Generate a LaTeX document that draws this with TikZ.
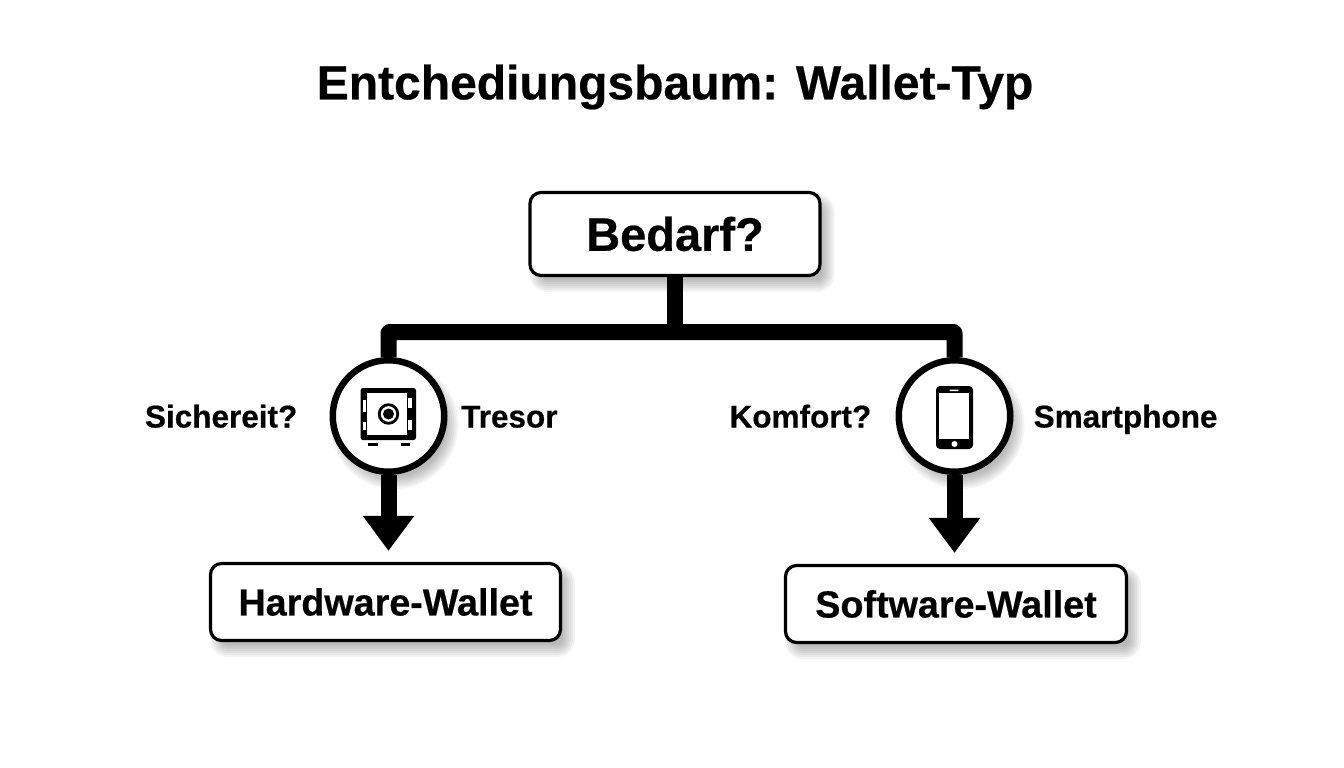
\documentclass[tikz,border=0pt]{standalone}
\usepackage{fontspec}
\setmainfont{Liberation Sans}[BoldFeatures={FakeBold=0.5}]
\usetikzlibrary{positioning,calc,arrows.meta,backgrounds}
\tikzset{
  box/.style={draw=black,fill=white,line width=3.2pt,rounded corners=11pt,
    font=\bfseries\fontsize{37.7}{44}\selectfont},
  round/.style={circle,draw=black,fill=white,line width=6.5pt,minimum size=111.5pt,inner sep=0pt},
  tag/.style={inner sep=0pt,text height=23pt,text depth=0pt,font=\bfseries\fontsize{31.5}{36}\selectfont},
  link/.style={draw=black,line width=16pt,line join=round},
  down/.style={link,shorten >=11pt,-{Triangle[width=49pt,length=35pt]}},
  haze/.style={fill=black,opacity=.045}
}
\newcommand{\boxhaze}[1]{
  \foreach \w in {-6,-4,...,6}
    \fill[haze,rounded corners={12pt+\w*1pt}]
      ($(#1.north west)+(7-\w,9-\w)$) rectangle ($(#1.south east)+(7+\w,9+\w)$);
}
\newcommand{\roundhaze}[1]{
  \foreach \w in {-6,-4,...,6}
    \fill[haze] ($(#1.center)+(6,9)$) circle ({58+\w});
}
\begin{document}
\begin{tikzpicture}[x=1pt,y=-1pt]
  \useasboundingbox (0,0) rectangle (1344,768);

  \node (title) [inner sep=0pt,font=\bfseries\fontsize{48}{58}\selectfont] at (675,87) {Entchediungsbaum: Wallet-Typ};
  \node (need) [box,minimum width=290pt,minimum height=83pt,font=\bfseries\fontsize{47}{54}\selectfont] at (675,234) {Bedarf?};
  \node (safe) [round] at (388.5,416) {};
  \node (phone) [round] at (954.5,416) {};
  \node (hw) [box,minimum width=350pt,minimum height=77pt] at (385.5,602) {Hardware-Wallet};
  \node (sw) [box,minimum width=341pt,minimum height=77pt] at (956,604) {Software-Wallet};

  \node (sec) [tag,left = 32pt of safe] {Sichereit?};
  \node (tre) [tag,right = 13.5pt of safe] {Tresor};
  \node (kom) [tag,left = 24pt of phone] {Komfort?};
  \node (sma) [tag,right = 20pt of phone] {Smartphone};

  \begin{pgfonlayer}{background}
    \boxhaze{need}
    \boxhaze{hw}
    \boxhaze{sw}
    \roundhaze{safe}
    \roundhaze{phone}
  \end{pgfonlayer}

  \coordinate (fork) at (675,332);
  \path[link] (need.south) -- (fork);
  \path[link,rounded corners=1pt] (safe.north) |- (fork) -| (phone.north);
  \path[down] (safe.south) -- (safe.south |- hw.north);
  \path[down] (phone.south) -- (phone.south |- sw.north);

  % safe icon
  \begin{scope}[shift={(safe.center)}]
    \fill[black,rounded corners=2.5pt] (-28,-28) rectangle (27.5,24);
    \fill[white] (-21.5,-23) rectangle (18.5,19);
    \fill[white] (-25.8,-16) rectangle (-22.8,-4.3);
    \fill[white] (-25.8,5.7) rectangle (-22.8,14);
    \fill[white] (19.8,-18) rectangle (23.3,-8);
    \fill[white] (19.8,4) rectangle (23.3,14);
    \draw[black,line width=2.8pt] (0,-2) circle (9.3);
    \fill[black] (0,-2) circle (5.5);
    \fill[black] (-21,27) rectangle (-11,30);
    \fill[black] (12,27) rectangle (21,30);
  \end{scope}

  % phone icon
  \begin{scope}[shift={(phone.center)}]
    \fill[black,rounded corners=4pt] (-18.5,-30) rectangle (18.5,33);
    \fill[white] (-15.5,-23) rectangle (14.5,23);
    \fill[white,rounded corners=.7pt] (-5,-26.5) rectangle (4,-25);
    \fill[white] (0,28) circle (3);
  \end{scope}
\end{tikzpicture}
\end{document}
